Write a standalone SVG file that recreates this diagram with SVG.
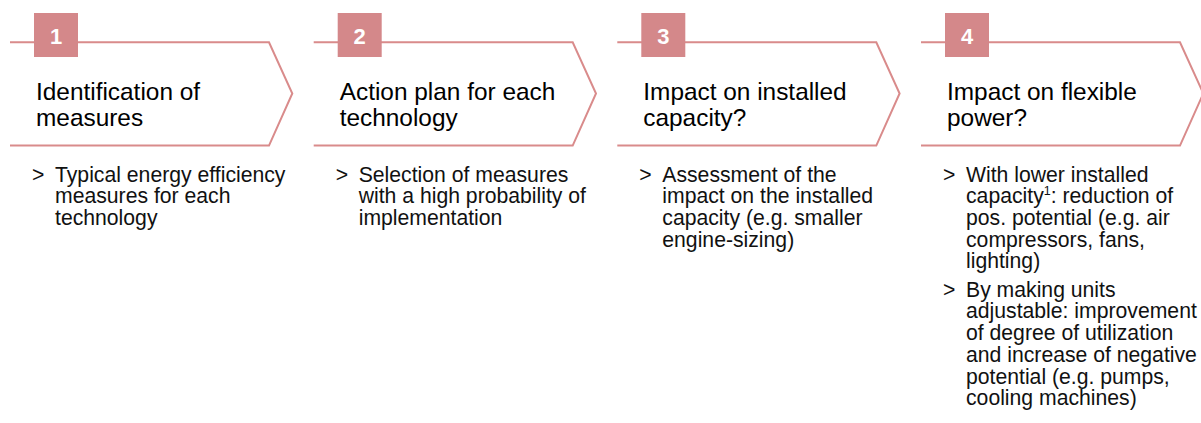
<svg xmlns="http://www.w3.org/2000/svg" width="1201" height="423" viewBox="0 0 1201 423">
<style>
.frame{fill:none;stroke:#d98b8b;stroke-width:2}
.box{fill:#d4888a}
.num{font-family:"Liberation Sans",Arial,sans-serif;font-size:22px;font-weight:bold;fill:#ffffff;text-anchor:middle}
.title{font-family:"Liberation Sans",Arial,sans-serif;font-size:24.4px;fill:#000000}
.body{font-family:"Liberation Sans",Arial,sans-serif;font-size:21.2px;fill:#111111}
</style>
<rect width="1201" height="423" fill="#ffffff"/>
<g id="step1">
<path class="frame" d="M10,42.3 H269 L292.3,93.5 L269,145.6 H10"/>
<rect class="box" x="34" y="13" width="44" height="44"/>
<text class="num" x="56" y="43.5">1</text>
<text class="title" x="36" y="99.5">Identification of</text>
<text class="title" x="36" y="125.5">measures</text>
<text class="body" x="32" y="181.5">&gt;</text>
<text class="body" x="55" y="181.5">Typical energy efficiency</text>
<text class="body" x="55" y="203.2">measures for each</text>
<text class="body" x="55" y="224.9">technology</text>
</g>
<g id="step2">
<path class="frame" d="M313.7,42.3 H572.7 L596,93.5 L572.7,145.6 H313.7"/>
<rect class="box" x="337.7" y="13" width="44" height="44"/>
<text class="num" x="359.7" y="43.5">2</text>
<text class="title" x="339.7" y="99.5">Action plan for each</text>
<text class="title" x="339.7" y="125.5">technology</text>
<text class="body" x="335.7" y="181.5">&gt;</text>
<text class="body" x="358.7" y="181.5">Selection of measures</text>
<text class="body" x="358.7" y="203.2">with a high probability of</text>
<text class="body" x="358.7" y="224.9">implementation</text>
</g>
<g id="step3">
<path class="frame" d="M617.3,42.3 H876.3 L899.6,93.5 L876.3,145.6 H617.3"/>
<rect class="box" x="641.3" y="13" width="44" height="44"/>
<text class="num" x="663.3" y="43.5">3</text>
<text class="title" x="643.3" y="99.5">Impact on installed</text>
<text class="title" x="643.3" y="125.5">capacity?</text>
<text class="body" x="639.3" y="181.5">&gt;</text>
<text class="body" x="662.3" y="181.5">Assessment of the</text>
<text class="body" x="662.3" y="203.2">impact on the installed</text>
<text class="body" x="662.3" y="224.9">capacity (e.g. smaller</text>
<text class="body" x="662.3" y="246.6">engine-sizing)</text>
</g>
<g id="step4">
<path class="frame" d="M921,42.3 H1180 L1203.3,93.5 L1180,145.6 H921"/>
<rect class="box" x="945" y="13" width="44" height="44"/>
<text class="num" x="967" y="43.5">4</text>
<text class="title" x="947" y="99.5">Impact on flexible</text>
<text class="title" x="947" y="125.5">power?</text>
<text class="body" x="943" y="181.5">&gt;</text>
<text class="body" x="966" y="181.5">With lower installed</text>
<text class="body" x="966" y="203.2">capacity<tspan font-size="12.5" dy="-8">1</tspan><tspan dy="8">: reduction of</tspan></text>
<text class="body" x="966" y="224.9">pos. potential (e.g. air</text>
<text class="body" x="966" y="246.6">compressors, fans,</text>
<text class="body" x="966" y="268.3">lighting)</text>
<text class="body" x="943" y="296.7">&gt;</text>
<text class="body" x="966" y="296.7">By making units</text>
<text class="body" x="966" y="318.4">adjustable: improvement</text>
<text class="body" x="966" y="340.1">of degree of utilization</text>
<text class="body" x="966" y="361.8">and increase of negative</text>
<text class="body" x="966" y="383.5">potential (e.g. pumps,</text>
<text class="body" x="966" y="405.2">cooling machines)</text>
</g>
<g id="connectors"/>
</svg>
